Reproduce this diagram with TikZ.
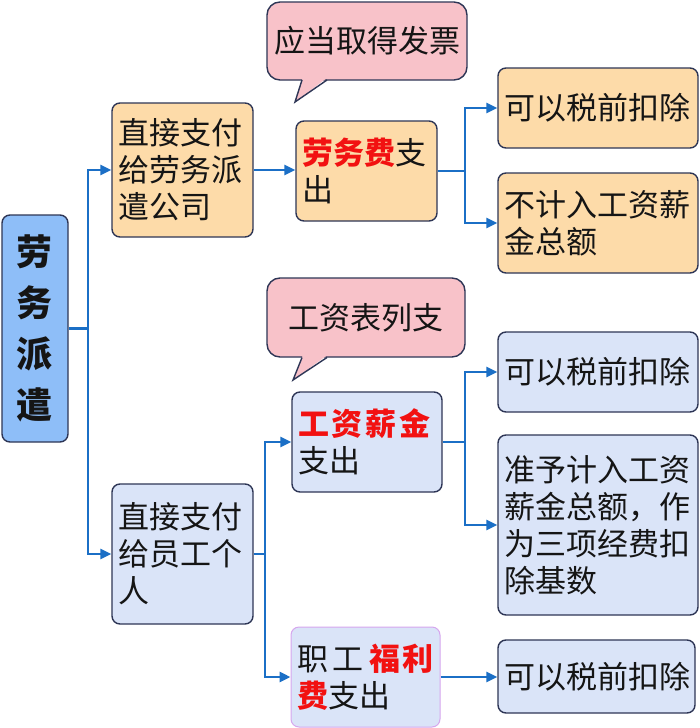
\documentclass[tikz,border=0pt]{standalone}
\usepackage{fontspec}
\setmainfont{Noto Sans CJK SC}
\usetikzlibrary{arrows.meta}
\definecolor{rootfill}{HTML}{8EBEF8}
\definecolor{orfill}{HTML}{FDDBA9}
\definecolor{blfill}{HTML}{DAE4F8}
\definecolor{pkfill}{HTML}{F8C2C9}
\definecolor{boxline}{HTML}{2E3656}
\definecolor{purpline}{HTML}{D6A6EE}
\definecolor{linec}{HTML}{1B6FC6}
\definecolor{redt}{HTML}{F21111}
\definecolor{txt}{HTML}{151515}
\begin{document}
\begin{tikzpicture}[x=1pt,y=-1pt,
  box/.style={draw=boxline, line width=1.4pt, rounded corners=8pt, inner xsep=6pt, inner ysep=2pt,
    align=left, text=txt, font=\fontsize{31}{37}\selectfont},
  orbox/.style={box, fill=orfill},
  blbox/.style={box, fill=blfill},
  bubble/.style={draw=boxline, line width=1.4pt, fill=pkfill, rounded corners=13pt, inner sep=0pt,
    align=center, text=txt, font=\fontsize{31}{37}\selectfont},
  conn/.style={draw=linec, line width=2.8pt},
  arr/.style={conn, -{Triangle[length=11pt,width=10pt]}},
  hot/.style={},
]
\useasboundingbox (0,0) rectangle (700,728);
\fill[white] (0,0) rectangle (700,728);

% root
\node[box, fill=rootfill, align=center, minimum width=66pt, minimum height=227pt, text width=54pt,
  font=\fontsize{36}{51}\selectfont\bfseries] (root) at (35,328.5) {劳\\务\\派\\遣};

% level 1
\node[orbox, minimum width=141pt, minimum height=134pt, text width=129pt] (A) at (182.5,170) {直接支付\\给劳务派\\遣公司};
\node[blbox, minimum width=141pt, minimum height=140pt, text width=129pt] (B) at (182.5,554) {直接支付\\给员工个\\人};

% level 2
\node[orbox, minimum width=141pt, minimum height=100pt, text width=129pt] (C) at (366.5,171) {{\color{redt}\bfseries 劳务费}支\\出};
\node[blbox, minimum width=150pt, minimum height=100pt, text width=138pt] (F) at (367,442)
  {{\color{redt}\bfseries 工\hspace{3pt}资\hspace{3pt}薪\hspace{3pt}金}\\支出};
\node[blbox, draw=purpline, line width=1pt, minimum width=149pt, minimum height=100pt, text width=137pt] (I) at (365.5,677)
  {职\hspace{5pt}工\hspace{5pt}{\color{redt}\bfseries 福\hspace{3pt}利}\\{\color{redt}\bfseries 费}支出};

% level 3
\node[orbox, minimum width=200pt, minimum height=80pt, text width=188pt] (D) at (598,108) {可以税前扣除};
\node[orbox, minimum width=200pt, minimum height=100pt, text width=188pt] (E) at (598,223) {不计入工资薪\\金总额};
\node[blbox, minimum width=200pt, minimum height=80pt, text width=188pt] (G) at (598,372) {可以税前扣除};
\node[blbox, minimum width=200pt, minimum height=180pt, text width=188pt] (H) at (598,525) {准予计入工资\\薪金总额，作\\为三项经费扣\\除基数};
\node[blbox, minimum width=197pt, minimum height=73pt, text width=185pt] (J) at (596.5,676.5) {可以税前扣除};

% callouts
\node[bubble, minimum width=200pt, minimum height=78pt] (K1) at (367,41) {应当取得发票};
\fill[pkfill] (302.6,78.2) -- (295,102) -- (326.6,78.2) -- cycle;
\draw[boxline, line width=1.4pt, line join=miter] (302,80) -- (295,102) -- (327,80);
\node[bubble, minimum width=198pt, minimum height=79pt] (K2) at (366,317.5) {工资表列支};
\fill[pkfill] (302.6,355.7) -- (293,380) -- (326.6,355.7) -- cycle;
\draw[boxline, line width=1.4pt, line join=miter] (302,357.5) -- (293,380) -- (327,357.5);

% junctions
\coordinate (t1) at (88,328.5);
\coordinate (t2) at (465,171);
\coordinate (t3) at (265,554);
\coordinate (t4) at (465,442);

% connectors
\draw[conn] (root.east) -- (t1);
\draw[arr] (t1) |- (A.west);
\draw[arr] (t1) |- (B.west);
\draw[arr] (A.east) -- (A.east -| C.west);
\draw[conn] (C.east) -- (t2);
\draw[arr] (t2) |- (D.west);
\draw[arr] (t2) |- (E.west);
\draw[conn] (B.east) -- (t3);
\draw[arr] (t3) |- (F.west);
\draw[arr] (t3) |- (I.west);
\draw[conn] (F.east) -- (t4);
\draw[arr] (t4) |- (G.west);
\draw[arr] (t4) |- (H.west);
\draw[arr] (I.east) -- (I.east -| J.west);
\end{tikzpicture}
\end{document}
